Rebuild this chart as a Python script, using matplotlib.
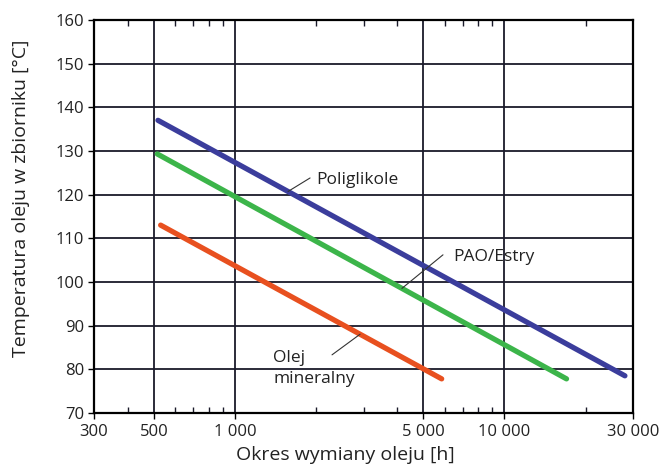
import matplotlib.pyplot as plt
from matplotlib.ticker import FixedLocator, LogLocator, NullFormatter
import numpy as np

plt.rcParams['font.family'] = ['Open Sans', 'DejaVu Sans']

# okres wymiany [h] i temperatura [C] - poczatek i koniec kazdej prostej
poli_x = [518, 28000]
poli_y = [137.0, 78.5]
pao_x = [515, 17000]
pao_y = [129.3, 77.8]
min_x = [530, 5850]
min_y = [113.0, 77.8]

x_ticks = [300, 500, 1000, 5000, 10000, 30000]
x_labels = ["300", "500", "1 000", "5 000", "10 000", "30 000"]
y_ticks = list(range(70, 161, 10))

fig = plt.figure(figsize=(6.67, 4.73), dpi=100)
ax = fig.add_axes([0.141, 0.127, 0.808, 0.831])

ax.set_xscale('log')
ax.set_xlim(300, 30000)
ax.set_ylim(70, 160)

ax.xaxis.set_major_locator(FixedLocator(x_ticks))
ax.set_xticklabels(x_labels)
ax.xaxis.set_minor_locator(LogLocator(base=10, subs=np.arange(2, 10)))
ax.xaxis.set_minor_formatter(NullFormatter())
ax.set_yticks(y_ticks)

ax.grid(True, which='major', color='#1a1a2a', linewidth=1.3)
ax.tick_params(axis='x', which='minor', direction='in', top=True, bottom=True,
               length=4, width=1, color='#1a1a2a')
ax.tick_params(axis='x', which='major', direction='out', length=4, width=1,
               labelsize=12, pad=4, labelcolor='#222222')
ax.tick_params(axis='y', which='major', direction='out', length=4, width=1,
               labelsize=12, pad=3, labelcolor='#222222')
for s in ax.spines.values():
    s.set_linewidth(1.6)
    s.set_color('black')

def logline(xs, ys, n=50):
    lx = np.linspace(np.log10(xs[0]), np.log10(xs[1]), n)
    return 10 ** lx, np.interp(lx, np.log10(xs), ys)

for xs, ys, c in [(poli_x, poli_y, '#3b3d9c'),
                  (pao_x, pao_y, '#3cb54a'),
                  (min_x, min_y, '#e8501f')]:
    xx, yy = logline(xs, ys)
    ax.plot(xx, yy, color=c, linewidth=3.8, solid_capstyle='round', zorder=3)

def y_at(xs, ys, x):
    return float(np.interp(np.log10(x), np.log10(xs), ys))

# odnosniki: (punkt na linii, poczatek kreski)
leader = dict(arrowstyle='-', color='#333333', lw=0.8, shrinkA=0, shrinkB=0)
ax.annotate("", xy=(1574, y_at(poli_x, poli_y, 1574)), xytext=(1900, 123.8),
            arrowprops=leader)
ax.annotate("", xy=(4165, y_at(pao_x, pao_y, 4165)), xytext=(5916, 106.2),
            arrowprops=leader)
ax.annotate("", xy=(2913, y_at(min_x, min_y, 2913)), xytext=(2292, 83.3),
            arrowprops=leader)

ax.text(2000, 123.4, "Poliglikole", fontsize=12.5, va='center', ha='left',
        color='#222222')
ax.text(6450, 105.8, "PAO/Estry", fontsize=12.5, va='center', ha='left',
        color='#222222')
ax.text(1386, 80.1, "Olej\nmineralny", fontsize=12.5, va='center', ha='left',
        linespacing=1.4, color='#222222')

ax.set_xlabel("Okres wymiany oleju [h]", fontsize=14, color='#222222')
ax.xaxis.label.set_va('center')
ax.xaxis.set_label_coords(0.466, -0.107)
ax.set_ylabel("Temperatura oleju w zbiorniku [°C]", fontsize=14,
              color='#222222')
ax.yaxis.label.set_va('center')
ax.yaxis.set_label_coords(-0.135, 0.545)

fig.savefig("out.png", dpi=100)
